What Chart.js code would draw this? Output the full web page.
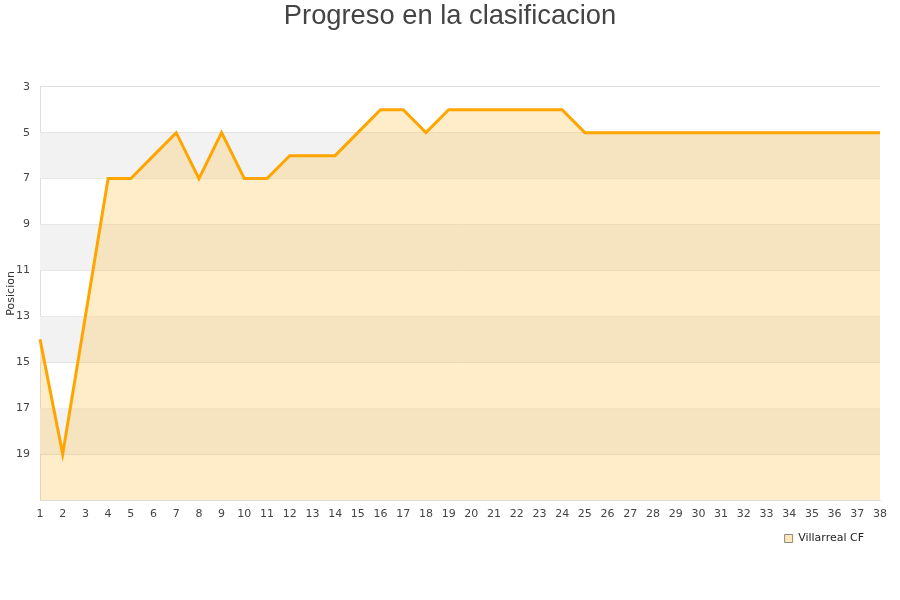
<!DOCTYPE html>
<html>
<head>
<meta charset="utf-8">
<script src="https://cdn.jsdelivr.net/npm/chart.js@4"></script>
<style>
  body { margin: 0; background: #fff; }
  #wrap { width: 900px; height: 600px; }
</style>
</head>
<body>
<div id="wrap"><canvas id="myChart" width="900" height="600"></canvas></div>
<script>
'use strict';

// data
let jornadas = [];
for (let i = 1; i <= 38; i++) {
  jornadas.push(String(i));
}
let posiciones = [14, 19, 13, 7, 7, 6, 5, 7, 5, 7, 7, 6, 6, 6, 5, 4, 4, 5, 4, 4,
  4, 4, 4, 4, 5, 5, 5, 5, 5, 5, 5, 5, 5, 5, 5, 5, 5, 5];
let yTicks = [3, 5, 7, 9, 11, 13, 15, 17, 19];
let equipo = 'Villarreal CF';

// alternating grey bands behind the plot
let bandPlugin = {
  id: 'bands',
  beforeDatasetsDraw(chart) {
    let ctx = chart.ctx;
    let area = chart.chartArea;
    let y = chart.scales.y;
    ctx.save();
    ctx.fillStyle = '#f2f2f2';
    for (let v = 5; v < 21; v += 4) {
      let top = y.getPixelForValue(v);
      let bottom = y.getPixelForValue(v + 2);
      ctx.fillRect(area.left, top, area.right - area.left, bottom - top);
    }
    ctx.restore();
  }
};

let chartObject = {
  type: 'line',
  data: {
    labels: jornadas,
    datasets: [{
      label: equipo,
      data: posiciones,
      borderColor: '#ffa500',
      borderWidth: 3,
      backgroundColor: 'rgba(255,192,75,0.3)',
      fill: { value: 21 },
      pointRadius: 0,
      tension: 0
    }]
  },
  options: {
    responsive: false,
    animation: false,
    layout: { padding: { top: 0, right: 5, bottom: 46, left: 5 } },
    plugins: {
      title: {
        display: true,
        text: 'Progreso en la clasificacion',
        color: '#444',
        font: { family: 'Liberation Sans', size: 27.3, weight: 'normal' },
        padding: { top: 0, bottom: 54 }
      },
      legend: {
        position: 'bottom',
        align: 'end',
        fullSize: false,
        labels: {
          boxWidth: 8,
          boxHeight: 8,
          padding: 16,
          color: '#222',
          font: { family: 'DejaVu Sans', size: 11 },
          generateLabels(chart) {
            return [{
              text: equipo,
              fillStyle: 'rgba(255,192,75,0.4)',
              strokeStyle: '#888',
              lineWidth: 1,
              fontColor: '#222'
            }];
          }
        }
      },
      tooltip: { enabled: false }
    },
    scales: {
      x: {
        offset: false,
        grid: { display: false, drawTicks: false },
        border: { color: '#ddd' },
        ticks: {
          color: '#444',
          font: { family: 'DejaVu Sans', size: 11 },
          maxRotation: 0,
          autoSkip: false,
          padding: 8
        },
        afterFit(scale) { scale.height = 17; }
      },
      y: {
        reverse: true,
        min: 3,
        max: 21,
        afterBuildTicks(scale) {
          scale.ticks = yTicks.concat([21]).map(v => ({ value: v }));
        },
        grid: { color: '#dddddd', drawTicks: false },
        border: { color: '#ddd' },
        ticks: {
          color: '#444',
          font: { family: 'DejaVu Sans', size: 11 },
          padding: 10,
          callback(v) { return yTicks.includes(v) ? String(v) : ''; }
        },
        title: {
          display: true,
          text: 'Posicion',
          color: '#333',
          font: { family: 'DejaVu Sans', size: 11 },
          padding: 0
        },
        afterFit(scale) { scale.width = 35; }
      },
      // empty axis on the right, only keeps space
      y2: {
        position: 'right',
        display: true,
        grid: { display: false, drawTicks: false },
        border: { display: false },
        ticks: { display: false },
        afterFit(scale) { scale.width = 15; }
      }
    }
  },
  plugins: [bandPlugin]
};

let ctx = document.getElementById('myChart').getContext('2d');
let myChart = new Chart(ctx, chartObject);
</script>
</body>
</html>
